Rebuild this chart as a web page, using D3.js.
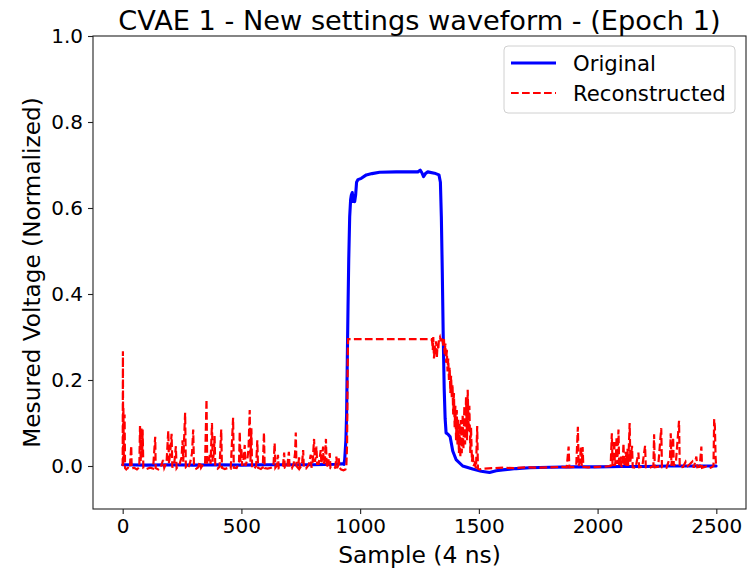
<!DOCTYPE html>
<html>
<head>
<meta charset="utf-8">
<script src="https://cdn.jsdelivr.net/npm/d3@7"></script>
<style>
  html, body { margin: 0; padding: 0; background: #fff; }
  svg { display: block; font-family: "DejaVu Sans", sans-serif; }
</style>
</head>
<body>
<svg id="chart" width="748" height="572"></svg>
<script>
// Waveform samples: [sample index, normalized voltage]
const original = [
  [0,0.003],[100,0.002],[200,0.003],[300,0.002],[400,0.003],[500,0.002],[600,0.003],[700,0.003],
  [800,0.003],[900,0.004],[920,0.005],[928,0.005],[932,0.004],[935,0.015],[940,0.06],[943,0.12],
  [946,0.25],[949,0.37],[952,0.48],[956,0.58],[960,0.62],[963,0.63],[967,0.636],[970,0.615],
  [973,0.62],[977,0.615],[981,0.63],[985,0.66],[991,0.666],[1005,0.669],[1026,0.677],[1050,0.68],
  [1082,0.683],[1152,0.684],[1243,0.684],[1253,0.688],[1260,0.682],[1267,0.673],[1275,0.68],
  [1285,0.684],[1313,0.681],[1332,0.677],[1338,0.66],[1342,0.58],[1346,0.45],[1350,0.3],
  [1354,0.18],[1358,0.11],[1362,0.077],[1370,0.074],[1379,0.068],[1385,0.05],[1390,0.035],
  [1404,0.015],[1432,0.0],[1474,-0.007],[1510,-0.012],[1545,-0.015],[1573,-0.011],[1600,-0.009],
  [1657,-0.006],[1713,-0.004],[1800,-0.003],[1900,-0.002],[2000,-0.002],[2100,-0.001],
  [2200,-0.001],[2300,0.0],[2400,0.0],[2499,0.0]
];

const reconstructed = [
  [0,0.0],[1,0.267],[2,0.0],[3,0.135],[5,0.01],[8,0.12],[10,-0.005],[15,-0.008],[22,-0.004],
  [30,-0.006],[36,0.047],[38,-0.006],[48,-0.004],[60,-0.008],[70,-0.003],[73,0.093],[76,0.01],
  [79,0.09],[82,0.02],[84,0.085],[87,-0.005],[100,-0.007],[115,-0.004],[128,-0.006],[137,0.068],
  [139,-0.005],[150,-0.008],[160,-0.003],[170,0.014],[175,-0.004],[185,0.01],[192,0.082],
  [195,0.005],[200,0.03],[206,0.075],[209,-0.004],[218,0.01],[224,0.046],[227,-0.005],[240,0.005],
  [248,0.02],[252,0.06],[255,0.01],[263,0.124],[266,-0.004],[275,-0.006],[285,0.01],[292,0.03],
  [297,0.085],[300,0.005],[310,-0.006],[318,-0.003],[325,0.01],[330,-0.004],[340,0.005],
  [347,0.004],[353,0.155],[356,0.005],[362,0.01],[367,0.026],[370,0.005],[376,0.1],[379,0.01],
  [384,0.03],[387,0.07],[390,0.0],[400,-0.006],[408,-0.002],[415,0.085],[418,-0.004],[430,-0.007],
  [445,-0.004],[455,-0.006],[465,0.112],[468,-0.004],[480,-0.005],[490,0.01],[493,0.08],[496,0.01],
  [500,0.042],[503,0.0],[510,0.02],[514,0.049],[517,0.0],[525,0.015],[530,0.04],[535,0.13],
  [538,0.01],[542,0.088],[545,-0.004],[555,-0.006],[562,0.0],[567,0.06],[570,-0.004],[582,-0.007],
  [590,-0.003],[595,0.078],[598,-0.005],[610,-0.006],[625,-0.004],[635,0.0],[640,0.053],
  [643,-0.004],[648,0.0],[654,0.026],[657,-0.005],[668,-0.003],[675,0.0],[680,0.031],[683,-0.004],
  [692,-0.005],[700,0.033],[703,-0.004],[712,-0.006],[720,0.005],[726,0.03],[729,0.078],[732,0.0],
  [738,-0.004],[743,0.02],[746,-0.005],[752,0.0],[756,0.01],[760,0.037],[763,-0.005],[772,-0.006],
  [780,0.0],[785,0.005],[792,0.026],[795,-0.004],[800,0.01],[806,0.063],[809,0.01],[813,0.02],
  [816,0.045],[819,0.005],[825,0.005],[830,0.02],[834,0.037],[837,0.005],[840,0.02],[844,0.045],
  [847,0.005],[852,0.02],[856,0.063],[859,-0.004],[865,0.005],[872,0.03],[875,-0.005],[885,-0.007],
  [895,-0.004],[900,0.022],[903,-0.005],[907,0.0],[910,0.018],[913,-0.004],[920,-0.008],
  [930,-0.01],[938,-0.008],[942,0.0],[945,0.05],[947,0.2],[949,0.295],[1000,0.295],[1100,0.295],
  [1200,0.295],[1300,0.295],[1303,0.29],[1306,0.27],[1308,0.3],[1311,0.25],[1314,0.28],[1317,0.26],
  [1320,0.29],[1323,0.25],[1326,0.285],[1329,0.27],[1332,0.295],[1336,0.3],[1340,0.29],[1345,0.3],
  [1350,0.28],[1353,0.295],[1356,0.26],[1359,0.285],[1362,0.24],[1365,0.27],[1368,0.22],
  [1371,0.25],[1374,0.2],[1377,0.23],[1380,0.17],[1383,0.21],[1386,0.16],[1389,0.19],[1392,0.12],
  [1395,0.17],[1398,0.09],[1401,0.14],[1404,0.06],[1407,0.13],[1410,0.05],[1413,0.11],[1416,0.03],
  [1419,0.1],[1422,0.02],[1425,0.107],[1428,0.03],[1432,0.12],[1435,0.04],[1439,0.14],[1442,0.05],
  [1446,0.16],[1450,0.06],[1453,0.177],[1457,0.08],[1460,0.14],[1464,0.03],[1467,0.09],
  [1471,0.01],[1474,0.03],[1478,0.0],[1482,0.005],[1488,-0.005],[1493,0.093],[1496,-0.006],
  [1502,-0.008],[1520,-0.006],[1560,-0.005],[1600,-0.004],[1650,-0.005],[1700,-0.003],
  [1750,-0.004],[1800,-0.003],[1850,-0.002],[1870,-0.003],[1878,0.045],[1881,-0.003],[1900,-0.002],
  [1910,0.0],[1917,0.091],[1920,0.0],[1925,0.01],[1930,0.045],[1933,0.0],[1937,0.044],[1940,-0.002],
  [1960,-0.003],[2000,-0.002],[2040,-0.001],[2055,0.0],[2060,0.076],[2063,0.0],[2066,0.02],
  [2070,0.06],[2073,0.0],[2077,0.02],[2080,0.068],[2083,0.005],[2088,0.085],[2091,0.0],[2095,0.005],
  [2098,0.022],[2101,-0.003],[2106,0.01],[2109,0.053],[2112,0.0],[2119,0.033],[2122,0.0],
  [2126,0.04],[2129,0.0],[2135,0.1],[2138,0.01],[2145,0.047],[2148,-0.003],[2160,-0.004],
  [2172,0.031],[2175,-0.003],[2188,-0.002],[2200,0.047],[2203,-0.003],[2220,-0.004],[2235,0.0],
  [2238,0.074],[2241,-0.003],[2255,-0.002],[2268,0.088],[2271,-0.003],[2290,-0.004],[2305,0.02],
  [2308,0.076],[2311,0.0],[2318,0.067],[2321,0.0],[2330,0.01],[2343,0.105],[2346,-0.003],
  [2360,-0.002],[2371,0.01],[2380,0.0],[2399,0.01],[2405,-0.004],[2416,0.022],[2420,-0.003],
  [2430,-0.002],[2437,0.045],[2440,-0.004],[2458,-0.001],[2470,-0.005],[2480,-0.003],[2488,0.0],
  [2491,0.109],[2494,0.091],[2497,0.02],[2499,0.0]
];

const xTicks = [0, 500, 1000, 1500, 2000, 2500];
const yTicks = [0.0, 0.2, 0.4, 0.6, 0.8, 1.0];
const seriesNames = ["Original", "Reconstructed"];

const svg = d3.select("#chart");
const plot = { left: 93, right: 746, top: 36, bottom: 509 };

const x = d3.scaleLinear().domain([-125, 2625]).range([plot.left, plot.right]);
const y = d3.scaleLinear().domain([-0.1, 1.0]).range([plot.bottom, plot.top]);

// Lines
const line = d3.line().x(d => x(d[0])).y(d => y(d[1]));

svg.append("path")
  .datum(original)
  .attr("d", line)
  .attr("fill", "none")
  .attr("stroke", "#0000ff")
  .attr("stroke-width", 3.1)
  .attr("stroke-linejoin", "round")
  .attr("stroke-linecap", "round");

svg.append("path")
  .datum(reconstructed)
  .attr("d", line)
  .attr("fill", "none")
  .attr("stroke", "#ff0000")
  .attr("stroke-width", 2.2)
  .attr("stroke-dasharray", "7.7,3.3");

// Frame
svg.append("rect")
  .attr("x", plot.left).attr("y", plot.top)
  .attr("width", plot.right - plot.left).attr("height", plot.bottom - plot.top)
  .attr("fill", "none").attr("stroke", "#222").attr("stroke-width", 1.1);

// Axes
const fmtY = d3.format(".1f");
const xAxis = svg.append("g")
  .attr("transform", `translate(0,${plot.bottom})`)
  .call(d3.axisBottom(x).tickValues(xTicks).tickSize(5).tickPadding(5).tickFormat(d3.format("d")));
const yAxis = svg.append("g")
  .attr("transform", `translate(${plot.left},0)`)
  .call(d3.axisLeft(y).tickValues(yTicks).tickSize(5).tickPadding(5).tickFormat(fmtY));

[xAxis, yAxis].forEach(g => {
  g.select(".domain").remove();
  g.selectAll(".tick line").attr("stroke", "#222").attr("stroke-width", 1.1);
  g.selectAll(".tick text")
    .attr("fill", "#000")
    .style("font-family", "'DejaVu Sans', sans-serif")
    .style("font-size", "20px");
});

// Titles
svg.append("text")
  .attr("x", (plot.left + plot.right) / 2).attr("y", 30)
  .attr("text-anchor", "middle")
  .style("font-size", "27.2px")
  .text("CVAE 1 - New settings waveform - (Epoch 1)");

svg.append("text")
  .attr("x", (plot.left + plot.right) / 2).attr("y", 563)
  .attr("text-anchor", "middle")
  .style("font-size", "23.4px")
  .text("Sample (4 ns)");

svg.append("text")
  .attr("transform", `translate(40,${(plot.top + plot.bottom) / 2}) rotate(-90)`)
  .attr("text-anchor", "middle")
  .style("font-size", "23.2px")
  .text("Mesured Voltage (Normalized)");

// Legend
const legend = svg.append("g");
legend.append("rect")
  .attr("x", 504).attr("y", 46).attr("width", 231).attr("height", 67).attr("rx", 4)
  .attr("fill", "#fff").attr("fill-opacity", 0.8)
  .attr("stroke", "#d0d0d0").attr("stroke-width", 1);

const legendStyles = [
  { color: "#0000ff", width: 3.1, dash: null },
  { color: "#ff0000", width: 2.2, dash: "7.7,3.3" }
];
seriesNames.forEach((name, i) => {
  const yy = 63 + i * 30;
  legend.append("line")
    .attr("x1", 511).attr("x2", 556).attr("y1", yy).attr("y2", yy)
    .attr("stroke", legendStyles[i].color)
    .attr("stroke-width", legendStyles[i].width)
    .attr("stroke-dasharray", legendStyles[i].dash);
  legend.append("text")
    .attr("x", 573).attr("y", yy + 7.5)
    .style("font-size", "21.2px")
    .text(name);
});
</script>
</body>
</html>
